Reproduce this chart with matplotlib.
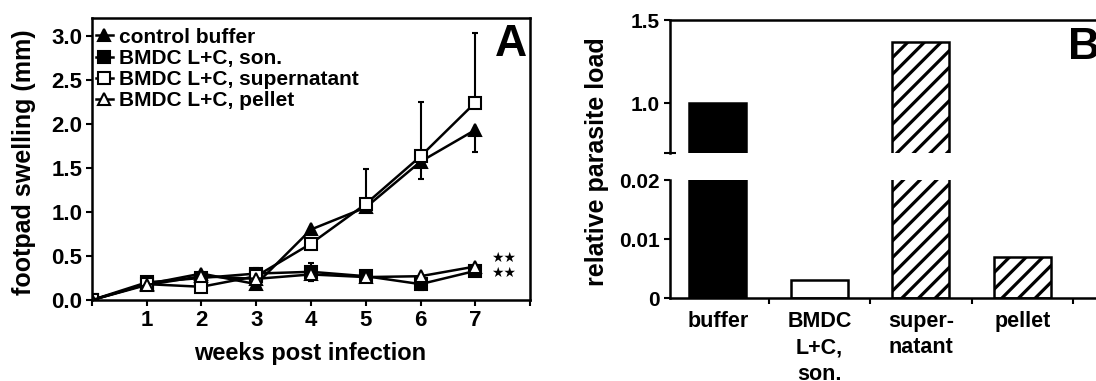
import numpy as np
import matplotlib
matplotlib.use("Agg")
import matplotlib.pyplot as plt
from matplotlib.lines import Line2D

plt.rcParams['font.family'] = ['Liberation Sans', 'DejaVu Sans']
plt.rcParams['font.weight'] = 'bold'
plt.rcParams['hatch.linewidth'] = 2.3

# panel A data
weeks = [0, 1, 2, 3, 4, 5, 6, 7]
control = [0, 0.18, 0.30, 0.18, 0.80, 1.05, 1.57, 1.93]
control_lo = [0, 0, 0, 0.04, 0, 0, 0.20, 0.25]
son = [0, 0.20, 0.25, 0.30, 0.32, 0.27, 0.18, 0.33]
son_lo = [0, 0, 0, 0.10, 0.10, 0, 0.07, 0]
son_hi = [0, 0, 0, 0.06, 0.10, 0, 0, 0]
supern = [0, 0.18, 0.15, 0.27, 0.64, 1.09, 1.63, 2.24]
supern_hi = [0, 0, 0, 0, 0, 0.40, 0.62, 0.79]
pellet = [0, 0.17, 0.27, 0.24, 0.29, 0.26, 0.27, 0.38]
pellet_lo = [0, 0, 0, 0, 0.07, 0, 0, 0]
zeros = [0] * 8
labels = ['control buffer', 'BMDC L+C, son.', 'BMDC L+C, supernatant', 'BMDC L+C, pellet']

# panel B data
groups = ['buffer', 'BMDC\nL+C,\nson.', 'super-\nnatant', 'pellet']
load = [1.0, 0.003, 1.37, 0.007]
fills = ['black', 'white', 'white', 'white']
hatches = ['', '', '//', '//']

fig = plt.figure(figsize=(10.96, 3.81), dpi=100)

# ---------------- panel A
ax = fig.add_axes([0.0839, 0.2126, 0.3997, 0.7402])
kw = dict(color='black', lw=1.8, ms=8, mew=1.5, capsize=2.5, elinewidth=1.5, capthick=1.5)
ax.errorbar(weeks, control, yerr=[control_lo, zeros], marker='^', mfc='black', **kw)
ax.errorbar(weeks, son, yerr=[son_lo, son_hi], marker='s', mfc='black', **kw)
ax.errorbar(weeks, supern, yerr=[zeros, supern_hi], marker='s', mfc='white', **kw)
ax.errorbar(weeks, pellet, yerr=[pellet_lo, zeros], marker='^', mfc='white', **kw)
ax.set_xlim(0, 8)
ax.set_ylim(0, 3.2)
ax.set_xticks(range(0, 9))
ax.set_xticklabels([''] + [str(i) for i in range(1, 8)] + [''], fontsize=16)
ax.set_yticks(np.arange(0, 3.01, 0.5))
ax.set_yticklabels(['%.1f' % v for v in np.arange(0, 3.01, 0.5)], fontsize=16)
ax.tick_params(length=4, width=1.5, pad=3)
for s in ax.spines.values():
    s.set_linewidth(1.8)
ax.set_xlabel('weeks post infection', fontsize=17, fontweight='bold')
ax.xaxis.set_label_coords(0.498, -0.15)
ax.xaxis.label.set_va('top')
ax.set_ylabel('footpad swelling (mm)', fontsize=18, fontweight='bold')
ax.yaxis.set_label_coords(-0.128, 0.488)
ax.text(7.28, 0.48, '★★', fontsize=10, va='center', family=['DejaVu Sans'])
ax.text(7.28, 0.31, '★★', fontsize=10, va='center', family=['DejaVu Sans'])
ax.text(7.95, 3.13, 'A', fontsize=32, ha='right', va='top', fontweight='bold')
handles = [Line2D([], [], color='black', lw=1.8, marker=m, ms=8, mew=1.5, mfc=f)
           for m, f in [('^', 'black'), ('s', 'black'), ('s', 'white'), ('^', 'white')]]
leg = ax.legend(handles, labels, loc='upper left', bbox_to_anchor=(0.0, 0.98),
                frameon=False, fontsize=15, handlelength=0.8, handletextpad=0.3,
                labelspacing=0.1, borderaxespad=0.1, borderpad=0.1)
for t in leg.get_texts():
    t.set_fontweight('bold')

# ---------------- panel B (broken axis)
x = np.arange(len(groups))
w_ax = 0.406
lo = fig.add_axes([0.6113, 0.2178, w_ax, 0.3097])
hi = fig.add_axes([0.6113, 0.5984, w_ax, 0.3491])
for a in (lo, hi):
    a.bar(x, load, width=0.56, color=fills, edgecolor='black', linewidth=1.8,
          hatch=hatches)
    a.set_xlim(-0.47, 3.91)
    a.spines['right'].set_visible(False)
    for s in a.spines.values():
        s.set_linewidth(1.8)
    a.tick_params(length=4, width=1.5, labelsize=15)
lo.set_ylim(0, 0.02)
hi.set_ylim(0.7, 1.5)
lo.spines['top'].set_visible(False)
hi.spines['bottom'].set_visible(False)
lo.set_yticks([0, 0.01, 0.02])
lo.set_yticklabels(['0', '0.01', '0.02'])
lo.set_yticks([0.02], minor=True)
lo.tick_params(axis='y', which='minor', direction='in', length=4, width=1.5)
hi.set_yticks([1.0, 1.5])
hi.set_yticklabels(['1.0', '1.5'])
hi.set_yticks([0.7], minor=True)
hi.tick_params(axis='y', which='minor', direction='inout', length=8, width=1.5)
hi.set_xticks([])
lo.set_xticks([0.5, 1.5, 2.5, 3.5])
lo.set_xticklabels([])
lo.set_xticks(x, minor=True)
lo.set_xticklabels(groups, minor=True, linespacing=1.35)
lo.tick_params(axis='x', which='minor', length=0, labelsize=15.5, pad=9)
fig.text(0.545, 0.575, 'relative parasite load', rotation=90, fontsize=18,
         fontweight='bold', ha='center', va='center')
fig.text(0.9745, 0.93, 'B', fontsize=32, fontweight='bold', ha='left', va='top')

fig.savefig('out.png', dpi=100)
